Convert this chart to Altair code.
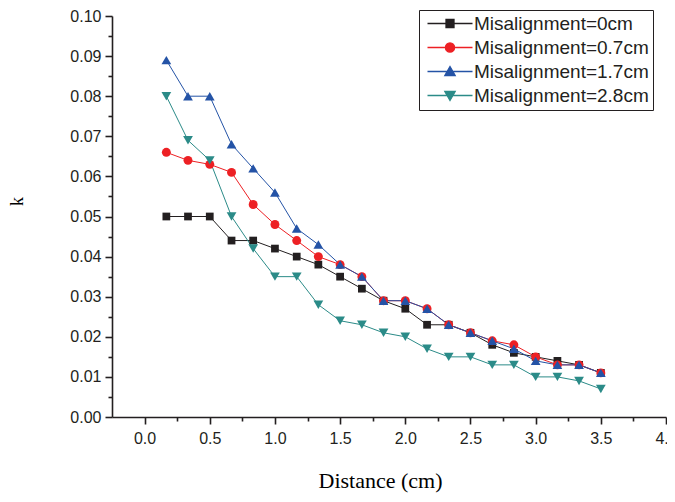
import altair as alt
import pandas as pd

distance = [0.167, 0.333, 0.5, 0.667, 0.833, 1.0, 1.167, 1.333, 1.5, 1.667, 1.833,
            2.0, 2.167, 2.333, 2.5, 2.667, 2.833, 3.0, 3.167, 3.333, 3.5]
k_0cm = [0.050, 0.050, 0.050, 0.044, 0.044, 0.042, 0.040, 0.038, 0.035, 0.032, 0.029,
         0.027, 0.023, 0.023, 0.021, 0.018, 0.016, 0.015, 0.014, 0.013, 0.011]
k_07cm = [0.066, 0.064, 0.063, 0.061, 0.053, 0.048, 0.044, 0.040, 0.038, 0.035, 0.029,
          0.029, 0.027, 0.023, 0.021, 0.019, 0.018, 0.015, 0.013, 0.013, 0.011]
k_17cm = [0.089, 0.080, 0.080, 0.068, 0.062, 0.056, 0.047, 0.043, 0.038, 0.035, 0.029,
          0.029, 0.027, 0.023, 0.021, 0.019, 0.017, 0.014, 0.013, 0.013, 0.011]
k_28cm = [0.080, 0.069, 0.064, 0.050, 0.042, 0.035, 0.035, 0.028, 0.024, 0.023, 0.021,
          0.020, 0.017, 0.015, 0.015, 0.013, 0.013, 0.010, 0.010, 0.009, 0.007]

series_names = ["Misalignment=0cm", "Misalignment=0.7cm",
                "Misalignment=1.7cm", "Misalignment=2.8cm"]
series_values = [k_0cm, k_07cm, k_17cm, k_28cm]
colors = ["#231f20", "#ed2024", "#2453a6", "#2b8b88"]
shapes = ["square", "circle", "triangle-up", "triangle-down"]
sizes = [60, 80, 95, 95]

x_ticks = [i * 0.25 for i in range(0, 17)]
y_ticks = [round(i * 0.005, 3) for i in range(0, 21)]

frames = []
for name, vals in zip(series_names, series_values):
    frames.append(pd.DataFrame({"Distance": distance, "k": vals, "Series": name}))
df = pd.concat(frames, ignore_index=True)

# legend symbols: line + marker (custom paths, scaled by sqrt(size)/2)
line_p = "M-1.25,0H10"
legend_paths = [
    line_p + "M3.375,-1H5.375V1H3.375Z",
    line_p + "M3.225,0A1.15,1.15,0,1,1,5.525,0A1.15,1.15,0,1,1,3.225,0Z",
    line_p + "M4.375,-1.25L5.675,1H3.075Z",
    line_p + "M4.375,1.25L5.675,-1H3.075Z",
]
shape_expr = (
    f"datum.value == '{series_names[0]}' ? '{legend_paths[0]}' : "
    f"datum.value == '{series_names[1]}' ? '{legend_paths[1]}' : "
    f"datum.value == '{series_names[2]}' ? '{legend_paths[2]}' : '{legend_paths[3]}'"
)
color_expr = (
    f"datum.value == '{series_names[0]}' ? '{colors[0]}' : "
    f"datum.value == '{series_names[1]}' ? '{colors[1]}' : "
    f"datum.value == '{series_names[2]}' ? '{colors[2]}' : '{colors[3]}'"
)

x_enc = alt.X("Distance:Q",
              scale=alt.Scale(domain=[-0.25, 4.0], nice=False, zero=False),
              axis=alt.Axis(
                  values=x_ticks,
                  title="Distance (cm)",
                  labelExpr="abs(datum.value*2 - round(datum.value*2)) > 0.01 ? '' : format(datum.value, '.1f')",
                  tickSize={"condition": {"test": "abs(datum.value*2 - round(datum.value*2)) > 0.01", "value": 4}, "value": 7},
                  labelPadding=6,
                  titleFont="Liberation Serif", titleFontSize=22, titleFontWeight="normal",
                  titleX=268, titleY=63, titleBaseline="middle",
                  titleAlign="center",
              ))
y_enc = alt.Y("k:Q",
              scale=alt.Scale(domain=[0, 0.1], nice=False),
              axis=alt.Axis(
                  values=y_ticks,
                  title="k",
                  labelExpr="abs(datum.value*100 - round(datum.value*100)) > 0.01 ? '' : format(datum.value, '.2f')",
                  tickSize={"condition": {"test": "abs(datum.value*100 - round(datum.value*100)) > 0.01", "value": 4}, "value": 7},
                  labelPadding=4,
                  titleFont="Liberation Serif", titleFontSize=18, titleFontWeight="normal",
                  titleAngle=270, titleX=-95, titleY=185, titleBaseline="middle",
                  titleAlign="center",
              ))

color_scale = alt.Scale(domain=series_names, range=colors)

legend = alt.Legend(
    orient="none", legendX=307, legendY=-6,
    padding=4, rowPadding=4,
    strokeColor="#231f20", fillColor="white",
    labelFont="Liberation Sans", labelFontSize=19,
    labelColor="#231f20", labelLimit=400,
    labelOffset=32, symbolSize=64, symbolStrokeWidth=1.3,
    symbolType={"expr": shape_expr},
    symbolStrokeColor={"expr": color_expr},
    symbolFillColor={"expr": color_expr},
    symbolOpacity=1,
)
color_enc = alt.Color("Series:N", scale=color_scale, title=None, legend=legend)

lines = alt.Chart(df).mark_line(strokeWidth=1).encode(
    x=x_enc, y=y_enc, color=color_enc, detail="Series:N",
)

point_layers = []
for name, shp, sz in zip(series_names, shapes, sizes):
    point_layers.append(
        alt.Chart(df).transform_filter(alt.datum.Series == name)
        .mark_point(filled=True, opacity=1, shape=shp, size=sz)
        .encode(x=x_enc, y=y_enc, color=color_enc)
    )

chart = alt.layer(lines, *point_layers).properties(
    width=554, height=401,
    autosize=alt.AutoSizeParams(type="none"),
    padding={"left": 104, "top": 8, "right": 1, "bottom": 76},
).configure_view(stroke=None).configure_axis(
    grid=False,
    domainColor="#231f20", domainWidth=1.6,
    tickColor="#231f20", tickWidth=1.6,
    labelFont="Liberation Sans", labelFontSize=16, labelColor="#231f20",
    titleColor="#000000",
    labelOverlap=False, labelFlush=False,
)

chart.save("out.html", embed_options={"renderer": "svg", "actions": False})
